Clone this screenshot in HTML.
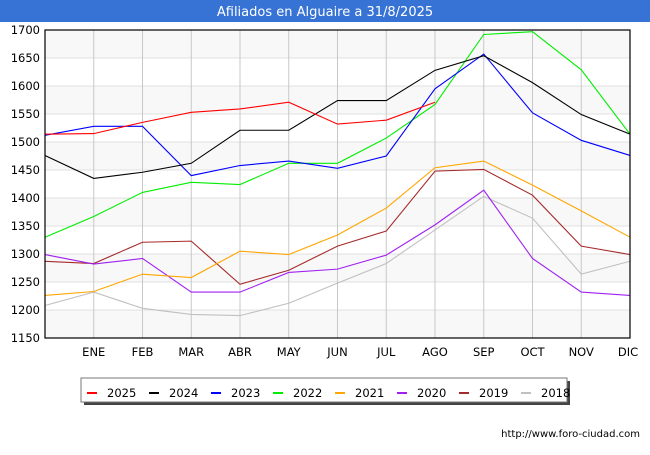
<!DOCTYPE html>
<html><head><meta charset="utf-8"><style>
body{margin:0;width:650px;height:450px;background:#fff;font-family:"Liberation Sans","DejaVu Sans",sans-serif;overflow:hidden}
svg text{font-family:"DejaVu Sans","Liberation Sans",sans-serif}
</style></head><body>
<svg id="chart" width="650" height="450">
<rect x="0" y="0" width="650" height="22" fill="#3673d4"/>
<text x="325" y="16" text-anchor="middle" fill="#fff" font-size="13">Afiliados en Alguaire a 31/8/2025</text>
<g id="grid"></g>
<g id="lines"></g>
<rect x="45" y="30" width="585" height="308" fill="none" stroke="#000" stroke-width="1.2"/>
<g id="axes"></g>
<rect x="84" y="381" width="486" height="24" fill="#444"/>
<rect x="81" y="378" width="486" height="24" fill="#fff" stroke="#777"/>
<g id="legend"></g>
<text x="640" y="437" text-anchor="end" font-size="10" fill="#000">http://www.foro-ciudad.com</text>
</svg>
<script>
const months=["ENE","FEB","MAR","ABR","MAY","JUN","JUL","AGO","SEP","OCT","NOV","DIC"];
const yTicks=[1150,1200,1250,1300,1350,1400,1450,1500,1550,1600,1650,1700];
const years=["2025","2024","2023","2022","2021","2020","2019","2018"];
const colors=["#ff0000","#000000","#0000ff","#00ee00","#ffa500","#a020f0","#a52a2a","#c0c0c0"];
const s2025=[1514,1515,1535,1553,1559,1571,1532,1539,1571];
const s2024=[1476,1435,1446,1462,1521,1521,1574,1574,1628,1654,1606,1549,1514];
const s2023=[1512,1528,1528,1440,1458,1466,1453,1475,1595,1657,1552,1503,1476];
const s2022=[1330,1367,1410,1428,1424,1462,1462,1507,1567,1692,1697,1629,1514];
const s2021=[1226,1233,1264,1258,1305,1299,1334,1382,1454,1466,1423,1377,1330];
const s2020=[1299,1282,1292,1232,1232,1267,1273,1298,1352,1414,1292,1232,1226];
const s2019=[1287,1283,1321,1323,1246,1271,1314,1341,1448,1451,1405,1314,1299];
const s2018=[1208,1232,1203,1192,1190,1212,1248,1283,1343,1403,1364,1264,1287];
const series=[s2025,s2024,s2023,s2022,s2021,s2020,s2019,s2018];
const NS="http://www.w3.org/2000/svg";
const X0=45,X1=630,Y0=30,Y1=338,YMIN=1150,YMAX=1700;
function xs(i){return X0+i*(X1-X0)/12;}
function ys(v){return Y1-(v-YMIN)*(Y1-Y0)/(YMAX-YMIN);}
function mk(tag,attrs,parent){const e=document.createElementNS(NS,tag);for(const k in attrs)e.setAttribute(k,attrs[k]);parent.appendChild(e);return e;}
const grid=document.getElementById('grid'),axes=document.getElementById('axes'),lines=document.getElementById('lines'),leg=document.getElementById('legend');
for(let k=0;k<yTicks.length-1;k++){
  if(k%2===0||k===yTicks.length-2){
    const sh=(yTicks.length-2-k)%2===0;
    if(sh){const r=mk('rect',{x:X0,y:ys(yTicks[k+1]),width:X1-X0,height:ys(yTicks[k])-ys(yTicks[k+1]),fill:'#f8f8f8'},grid);
    
    }
  }
}
yTicks.forEach(v=>{
  const l=mk('line',{x1:X0,x2:X1,y1:ys(v),y2:ys(v),stroke:'#e0e0e0','stroke-width':1},grid);
  
  
  const t=mk('text',{x:40,y:ys(v)+4,'text-anchor':'end','font-size':11.5,fill:'#000'},axes);t.textContent=v;
  
  
});
months.forEach((m,i)=>{
  const x=xs(i+1);
  const l=mk('line',{x1:x,x2:x,y1:Y0,y2:Y1,stroke:'#c8c8c8','stroke-width':1},grid);
  
  
  const t=mk('text',{x:i===11?x-2:x,y:356,'text-anchor':'middle','font-size':11.5,fill:'#000'},axes);t.textContent=m;
  
  
});
for(let s=series.length-1;s>=0;s--){
  const pts=series[s].map((v,i)=>xs(i)+','+ys(v)).join(' ');
  const p=mk('polyline',{points:pts,fill:'none',stroke:colors[s],'stroke-width':1.1},lines);
  
  
}
years.forEach((y,i)=>{
  const x=87+i*62;
  const m=mk('rect',{x:x,y:392,width:10,height:2,fill:colors[i]},leg);
  
  
  const t=mk('text',{x:x+20,y:397,'font-size':11.5,fill:'#000'},leg);t.textContent=y;
  
  
});
</script>
</body></html>
